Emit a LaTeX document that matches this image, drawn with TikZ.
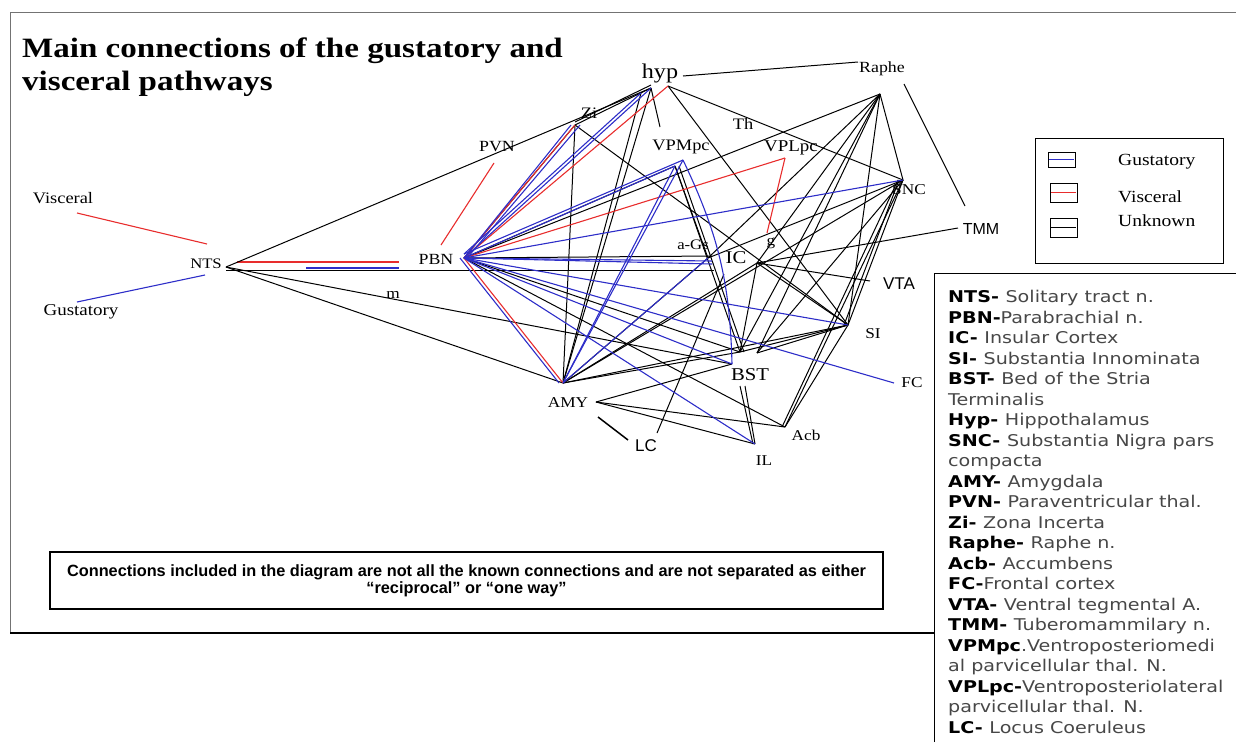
\documentclass[tikz,border=0pt]{standalone}
\usepackage{fontspec}
\setmainfont{Liberation Serif}
\newfontfamily\labfont[FakeStretch=1.15]{Liberation Serif}
\newfontfamily\titlefont[FakeStretch=1.18]{Liberation Serif}
\newfontfamily\armfont{Liberation Sans}
\newfontfamily\notefont{Liberation Sans}
\newfontfamily\glossfont[FakeStretch=1.18]{DejaVu Sans}
\newcommand{\fsz}[1]{\fontsize{#1}{#1}\selectfont}
\newcommand{\gl}[2]{\textbf{#1}\textcolor{black!72}{#2}}
\definecolor{gustblue}{RGB}{45,45,200}
\definecolor{viscred}{RGB}{232,45,45}

\tikzset{
  gust/.style={gustblue, line width=1.1pt},
  visc/.style={viscred, line width=1.1pt},
  unk/.style={black, line width=1pt},
  lab/.style={font=\labfont, inner sep=0pt},
  arl/.style={font=\armfont, inner sep=0pt},
}

\begin{document}
\begin{tikzpicture}[x=1pt, y=-1pt]
        \useasboundingbox (0,0) rectangle (1236,742);

        \draw[black!55, line width=1pt] (10,633) -- (10,12) -- (1236,12);
        \draw[line width=2.2pt] (10,633) -- (934,633);
        \draw[line width=1pt] (934,742) -- (934,273) -- (1236,273);

        \node[anchor=base west, inner sep=0pt, font=\titlefont\bfseries\fsz{28}] (title1) at (22,57) {Main connections of the gustatory and};
        \node[anchor=base west, inner sep=0pt, font=\titlefont\bfseries\fsz{28}] (title2) at (22,90) {visceral pathways};

        \coordinate (nts) at (226,267);
        \coordinate (ntsH) at (226,270);
        \coordinate (pbn) at (464,258);
        \coordinate (zi) at (575,125);
        \coordinate (hyp) at (651,88);
        \coordinate (hypL) at (641,93);
        \coordinate (hypR) at (668,86);
        \coordinate (hypE) at (683,76);
        \coordinate (hypT) at (660,127);
        \coordinate (raphe) at (880,94);
        \coordinate (rapheW) at (858,62);
        \coordinate (rapheE) at (904,84);
        \coordinate (vpm) at (675,166);
        \coordinate (vpmB) at (683,160);
        \coordinate (vpl) at (785,158);
        \coordinate (vplG) at (767,233);
        \coordinate (snc) at (903,180);
        \coordinate (ags) at (708,258);
        \coordinate (agsA) at (712,256);
        \coordinate (agsB) at (712,261);
        \coordinate (agsC) at (712,264);
        \coordinate (agsD) at (714,270);
        \coordinate (ic) at (757,263);
        \coordinate (vta) at (870,281);
        \coordinate (tmm) at (958,228);
        \coordinate (tmmT) at (965,206);
        \coordinate (si) at (848,325);
        \coordinate (fc) at (894,383);
        \coordinate (bst) at (740,352);
        \coordinate (bstB) at (757,353);
        \coordinate (bstL) at (732,364);
        \coordinate (bstS) at (745,386);
        \coordinate (amy) at (563,383);
        \coordinate (amyR) at (596,402);
        \coordinate (lc) at (657,433);
        \coordinate (lcT) at (724,274);
        \coordinate (lcA) at (598,417);
        \coordinate (lcB) at (628,440);
        \coordinate (il) at (755,444);
        \coordinate (acb) at (785,427);
        \coordinate (viscA) at (77,213);
        \coordinate (viscB) at (207,244);
        \coordinate (gustA) at (77,302);
        \coordinate (gustB) at (205,275);
        \coordinate (pvnA) at (441,245);
        \coordinate (pvnB) at (494,163);
        \coordinate (ntsR) at (237,262);
        \coordinate (pbnR) at (399,262);
        \coordinate (ntsG) at (306,268);
        \coordinate (pbnG) at (399,268);

        \node[lab, font=\labfont\fsz{16}] (visceral) at (63,198) {Visceral};
        \node[lab, font=\labfont\fsz{16.5}] (gustatory) at (81,312) {Gustatory};
        \node[lab, font=\labfont\fsz{14.5}] (ntsl) at (206,264) {NTS};
        \node[lab, font=\labfont\fsz{15.5}] (pbnl) at (436,259) {PBN};
        \node[lab, font=\labfont\fsz{15.5}] (pvnl) at (497,147) {PVN};
        \node[lab, font=\labfont\fsz{16}] (zil) at (589,113) {Zi};
        \node[lab, font=\labfont\fsz{21}] (hypl) at (660,73) {hyp};
        \node[lab, font=\labfont\fsz{15.5}] (raphel) at (882,69) {Raphe};
        \node[lab, font=\labfont\fsz{16}] (thl) at (743,124) {Th};
        \node[lab, font=\labfont\fsz{16}] (vpml) at (681,147) {VPMpc};
        \node[lab, font=\labfont\fsz{16.5}] (vpll) at (791,148) {VPLpc};
        \node[lab, font=\labfont\fsz{15}] (sncl) at (909,190) {SNC};
        \node[arl, font=\armfont\fsz{16}] (tmml) at (981,229) {TMM};
        \node[lab, font=\labfont\fsz{14.5}] (agsl) at (693,245) {a-Gs};
        \node[lab, font=\labfont\fsz{18}] (icl) at (736,258) {IC};
        \node[lab, font=\labfont\fsz{15}] (gl) at (771,243) {g};
        \node[arl, font=\armfont\fsz{17}] (vtal) at (899,284) {VTA};
        \node[lab, font=\labfont\fsz{15}] (sil) at (873,334) {SI};
        \node[lab, font=\labfont\fsz{15}] (fcl) at (912,383) {FC};
        \node[lab, font=\labfont\fsz{18}] (bstl) at (750,375) {BST};
        \node[lab, font=\labfont\fsz{15}] (amyl) at (568,403) {AMY};
        \node[arl, font=\armfont\fsz{17}] (lcl) at (646,446) {LC};
        \node[lab, font=\labfont\fsz{15}] (ill) at (764,461) {IL};
        \node[lab, font=\labfont\fsz{15}] (acbl) at (806,435) {Acb};
        \node[lab, font=\labfont\fsz{15}, anchor=south] (ml) at (393,299) {m};

        \draw[visc] (viscA) -- (viscB);
        \draw[gust] (gustA) -- (gustB);
        \draw[visc] (ntsR) -- (pbnR);
        \draw[gust, line width=1.8pt] (ntsG) -- (pbnG);
        \draw[visc] (pvnA) -- (pvnB);

        \draw[unk] (nts) -- (hyp);
        \draw[unk] (ntsH) -- (agsD);
        \draw[unk] (nts) -- (bstL);
        \draw[unk] (nts) -- (amy);

        \draw[unk] (pbn) -- (raphe);
        \draw[unk] (pbn) -- (vpm);
        \draw[unk] (pbn) -- (zi);
        \draw[unk] (pbn) -- (bst);
        \draw[unk] (pbn) -- (acb);
        \draw[unk] (pbn) -- (agsA);

        \draw[unk] (zi) -- (amy);
        \draw[unk] (zi) -- (hyp);
        \draw[unk] ([yshift=3pt]zi) -- ([yshift=3pt]hyp);
        \draw[unk] (zi) -- (si);

        \draw[unk] (hypE) -- (rapheW);
        \draw[unk] (hyp) -- (hypT);
        \draw[unk] (hypR) -- (snc);
        \draw[unk] (hypR) -- (si);
        \draw[unk] (hyp) -- (amy);
        \draw[unk] (hypL) -- (amy);

        \draw[unk] (raphe) -- (snc);
        \draw[unk] (raphe) -- (si);
        \draw[unk] (raphe) -- (ic);
        \draw[unk] (raphe) -- (ags);
        \draw[unk] (raphe) -- (bst);
        \draw[unk] (raphe) -- (bstB);
        \draw[unk] (rapheE) -- (tmmT);

        \draw[unk] (vpm) -- (ags);
        \draw[unk] (vpm) -- (bst);
        \draw[unk] ([xshift=4pt]vpm) -- ([xshift=4pt]bst);

        \draw[unk] (snc) -- (si);
        \draw[unk] ([xshift=-4pt]snc) -- ([xshift=-4pt]si);
        \draw[unk] (snc) -- (acb);
        \draw[unk] ([xshift=-5pt]snc) -- ([xshift=-3pt]acb);
        \draw[unk] (snc) -- (ags);
        \draw[unk] (snc) -- (amy);
        \draw[unk] (snc) -- (bstB);

        \draw[unk] (ic) -- (tmm);
        \draw[unk] (ic) -- (vta);
        \draw[unk] (ic) -- (si);
        \draw[unk] (ic) -- (amy);
        \draw[unk] (ic) -- (bst);
        \draw[unk] (ags) -- (amy);

        \draw[unk] (bst) -- (si);
        \draw[unk] (bstB) -- (si);
        \draw[unk] (bstS) -- (il);
        \draw[unk] ([xshift=-5pt]bstS) -- ([xshift=-2pt]il);

        \draw[unk] (amy) -- (bst);
        \draw[unk] (amy) -- (si);
        \draw[unk] (amyR) -- (bstL);
        \draw[unk] (amyR) -- (il);
        \draw[unk] (amyR) -- (acb);
        \draw[unk] (acb) -- (si);

        \draw[unk] (lc) -- (lcT);
        \draw[unk, line width=1.5pt] (lcA) -- (lcB);

        \draw[visc] (pbn) -- (amy);
        \draw[visc] (pbn) -- (zi);
        \draw[visc] (pbn) -- (hypR);
        \draw[visc] (pbn) -- (vpl);
        \draw[visc] (vpl) -- (vplG);

        \draw[gust] (pbn) -- (hyp);
        \draw[gust] ([yshift=4pt]pbn) -- (hypL);
        \draw[gust] (pbn) -- ([xshift=-4pt]zi);
        \draw[gust] ([xshift=3pt]pbn) -- ([xshift=5pt]zi);
        \draw[gust] (pbn) -- (vpm);
        \draw[gust] ([yshift=4pt]pbn) -- (vpmB);
        \draw[gust] (pbn) -- (snc);
        \draw[gust] (pbn) -- (agsB);
        \draw[gust] (pbn) -- (agsC);
        \draw[gust] (pbn) -- (si);
        \draw[gust] (pbn) -- (fc);
        \draw[gust] (pbn) -- (bstL);
        \draw[gust] (pbn) -- (il);
        \draw[gust] ([xshift=-4pt]pbn) -- ([xshift=-4pt]amy);
        \draw[gust] (amy) -- (vpm);
        \draw[gust] (amy) -- (vpmB);
        \draw[gust] (amy) -- (ags);
        \draw[gust] (vpmB) to[bend left=12] (bstL);

        \draw[line width=1pt] (1035,138) rectangle (1223,263);
        \draw[line width=1pt] (1048,152) rectangle (1075,167);
        \draw[gust] (1049,159.5) -- (1074,159.5);
        \draw[line width=1pt] (1050,183) rectangle (1077,202);
        \draw[visc] (1051,192.5) -- (1076,192.5);
        \draw[line width=1pt] (1050,218) rectangle (1077,237);
        \draw[unk] (1051,227.5) -- (1076,227.5);
        \node[lab, font=\labfont\fsz{17}, anchor=west] (leggust) at (1118,162) {Gustatory};
        \node[lab, font=\labfont\fsz{17}, anchor=west] (legvisc) at (1118,197) {Visceral};
        \node[lab, font=\labfont\fsz{17}, anchor=west] (legunk) at (1118,221) {Unknown};

        \node[draw, line width=2.5pt, minimum width=833pt, minimum height=57pt, inner sep=0pt,
              align=center, font=\notefont\bfseries\fontsize{16.3}{17}\selectfont] (note) at (466.5,580.5)
              {Connections included in the diagram are not all the known connections and are not separated as either\\
               “reciprocal” or “one way”};

        \node[anchor=north west, inner sep=0pt, align=left,
              font=\glossfont\fontsize{16.2}{20.5}\selectfont] (gloss) at (948,290)
              {\gl{NTS- }{Solitary tract n.}\\
               \gl{PBN-}{Parabrachial n.}\\
               \gl{IC- }{Insular Cortex}\\
               \gl{SI- }{Substantia Innominata}\\
               \gl{BST- }{Bed of the Stria}\\
               \gl{}{Terminalis}\\
               \gl{Hyp- }{Hippothalamus}\\
               \gl{SNC- }{Substantia Nigra pars}\\
               \gl{}{compacta}\\
               \gl{AMY- }{Amygdala}\\
               \gl{PVN- }{Paraventricular thal.}\\
               \gl{Zi- }{Zona Incerta}\\
               \gl{Raphe- }{Raphe n.}\\
               \gl{Acb- }{Accumbens}\\
               \gl{FC-}{Frontal cortex}\\
               \gl{VTA- }{Ventral tegmental A.}\\
               \gl{TMM- }{Tuberomammilary n.}\\
               \gl{VPMpc}{.Ventroposteriomedi}\\
               \gl{}{al parvicellular thal. N.}\\
               \gl{VPLpc-}{Ventroposteriolateral}\\
               \gl{}{parvicellular thal. N.}\\
               \gl{LC- }{Locus Coeruleus}};
      \end{tikzpicture}
\end{document}
